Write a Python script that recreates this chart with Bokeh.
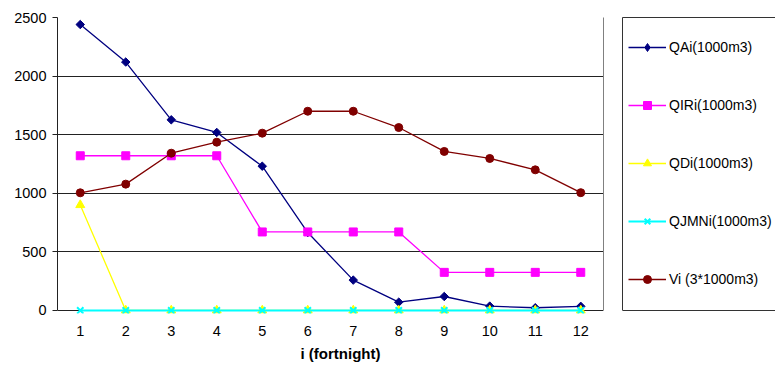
import math
from bokeh.plotting import figure
from bokeh.models import Legend, LegendItem, FixedTicker, LinearAxis, Title, Range1d
from bokeh.layouts import row
from bokeh.embed import file_html
from bokeh.resources import INLINE

fortnights = [1, 2, 3, 4, 5, 6, 7, 8, 9, 10, 11, 12]
qai = [2440, 2120, 1627, 1519, 1231, 665, 259, 71, 119, 37, 23, 35]
qiri = [1320, 1320, 1320, 1320, 670, 670, 670, 670, 325, 325, 325, 325]
qdi = [900, 0, 0, 0, 0, 0, 0, 0, 0, 0, 0, 0]
qjmni = [0, 0, 0, 0, 0, 0, 0, 0, 0, 0, 0, 0]
vi = [1004, 1078, 1342, 1436, 1513, 1700, 1700, 1561, 1357, 1297, 1200, 1005]
y_ticks = [0, 500, 1000, 1500, 2000, 2500]
labels = ["QAi(1000m3)", "QIRi(1000m3)", "QDi(1000m3)", "QJMNi(1000m3)", "Vi (3*1000m3)"]

FONT = "Liberation Sans"
TICK_SIZE = "14.5px"

p = figure(width=615, height=367, x_range=(0.5, 12.5), y_range=(-26, 2500),
           output_backend="svg", toolbar_location=None,
           min_border_left=57, min_border_right=12, min_border_top=17, min_border_bottom=54)
p.background_fill_color = "white"
p.border_fill_color = "white"
p.outline_line_color = None

p.xgrid.visible = False
p.ygrid.ticker = FixedTicker(ticks=y_ticks)
p.ygrid.grid_line_color = "#222222"
p.ygrid.grid_line_width = 1

p.yaxis.ticker = FixedTicker(ticks=y_ticks)
p.yaxis.bounds = (0, 2500)
p.yaxis.minor_tick_line_color = None
p.yaxis.major_tick_in = 0
p.yaxis.major_tick_out = 5
p.yaxis.major_tick_line_color = "#222222"
p.yaxis.axis_line_color = "#222222"
p.yaxis.major_label_standoff = 6
p.yaxis.major_label_text_font = FONT
p.yaxis.major_label_text_font_size = TICK_SIZE
p.yaxis.major_label_text_color = "black"

p.xaxis.ticker = FixedTicker(ticks=fortnights)
p.xaxis.minor_tick_line_color = None
p.xaxis.major_tick_in = 0
p.xaxis.major_tick_out = 0
p.xaxis.axis_line_color = None
p.xaxis.major_label_standoff = 12
p.xaxis.major_label_text_font = FONT
p.xaxis.major_label_text_font_size = TICK_SIZE
p.xaxis.major_label_text_color = "black"

xtitle = Title(text="i (fortnight)", align="left", offset=243, standoff=8,
               text_font=FONT, text_font_size="15px", text_font_style="bold",
               text_color="black")
p.add_layout(xtitle, "below")

# right border of the plot area
right_axis = LinearAxis(ticker=FixedTicker(ticks=[]), bounds=(0, 2500))
right_axis.axis_line_color = "#808080"
right_axis.major_tick_out = 0
right_axis.major_tick_in = 0
right_axis.minor_tick_line_color = None
right_axis.major_label_standoff = 0
right_axis.major_label_text_font_size = "0px"
p.add_layout(right_axis, "right")

series = [
    (qai, "#000080", "square", 6, 1.3, math.pi / 4, "diamond"),
    (qiri, "#FF00FF", "square", 8, 1.3, 0, "square"),
    (qdi, "#FFFF00", "triangle", 9, 1.3, 0, "triangle"),
    (qjmni, "#00FFFF", "x", 9, 2, 0, "x"),
    (vi, "#800000", "circle", 8, 1.3, 0, "circle"),
]

# legend panel: a second figure whose axes form the legend box
lp = figure(width=160, height=367, x_range=Range1d(0, 153), y_range=Range1d(0, 296),
            output_backend="svg", toolbar_location=None,
            min_border_left=7, min_border_right=0, min_border_top=17, min_border_bottom=54)
lp.outline_line_color = None
lp.background_fill_color = "white"
lp.border_fill_color = "white"
lp.xaxis.visible = False
lp.yaxis.visible = False
lp.xgrid.visible = False
lp.ygrid.visible = False


def box_axis(**kw):
    ax = LinearAxis(ticker=FixedTicker(ticks=[]), **kw)
    ax.axis_line_color = "#333333"
    ax.major_tick_out = 0
    ax.major_tick_in = 0
    ax.minor_tick_line_color = None
    ax.major_label_standoff = 0
    ax.major_label_text_font_size = "0px"
    return ax


lp.add_layout(box_axis(bounds=(3, 296)), "left")
lp.add_layout(box_axis(), "above")
lp.add_layout(box_axis(fixed_location=3), "below")

items = []
for (vals, color, marker, size, lw, ang, lmarker), lab in zip(series, labels):
    p.line(fortnights, vals, line_color=color, line_width=lw)
    if marker == "x":
        p.scatter(fortnights, vals, marker=marker, size=size, line_color=color, line_width=2)
        lsc = lp.scatter(fortnights, vals, marker=lmarker, line_color=color, line_width=2,
                         visible=False)
    else:
        p.scatter(fortnights, vals, marker=marker, size=size, angle=ang,
                  fill_color=color, line_color=color)
        lsc = lp.scatter(fortnights, vals, marker=lmarker, fill_color=color,
                         line_color=color, visible=False)
    lln = lp.line(fortnights, vals, line_color=color, line_width=lw, visible=False)
    items.append(LegendItem(label=lab, renderers=[lln, lsc]))

legend = Legend(items=items, location=(6, 24))
legend.padding = 7
legend.margin = 0
legend.spacing = 38
legend.glyph_width = 38
legend.glyph_height = 20
legend.label_height = 20
legend.label_standoff = 3
legend.label_text_font = FONT
legend.label_text_font_size = "14px"
legend.label_text_color = "black"
legend.border_line_color = None
legend.background_fill_alpha = 0
lp.add_layout(legend, "center")

layout = row(p, lp)
open("out.html", "w").write(file_html(layout, INLINE))
